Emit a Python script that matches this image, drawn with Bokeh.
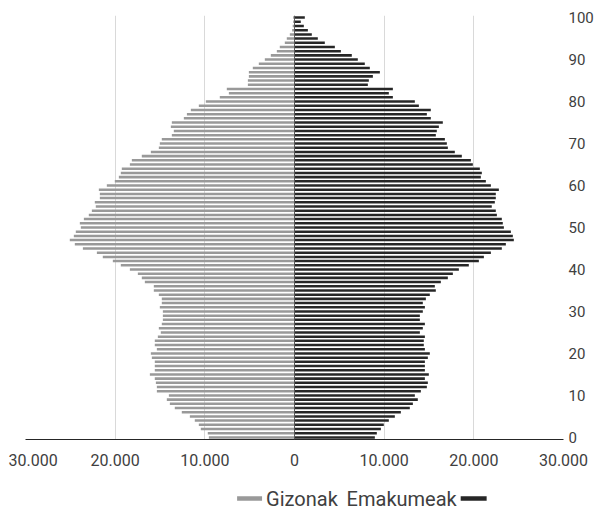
from bokeh.plotting import figure
from bokeh.models import Range1d, FixedTicker, Span, ColumnDataSource
from bokeh.layouts import column
from bokeh.embed import file_html
from bokeh.resources import INLINE
from bokeh.core.properties import value

# ---- data (ages 0..100) ----
ages = list(range(101))

# Gizonak (men), persons, age 0 .. 100
men = [9550, 9670, 10450, 10670, 11120, 11670, 12570, 13350, 13900, 14240,
       14010, 15350, 15350, 15460, 15580, 16130, 15580, 15580, 15580, 15910,
       16020, 15350, 15580, 15580, 15240, 14910, 15130, 14800, 14680, 14680,
       14680, 15020, 14800, 14800, 15130, 15690, 15690, 16690, 17030, 17470,
       18360, 19370, 20260, 21380, 22040, 23600, 24500, 25060, 24610, 24390,
       23830, 23940, 23490, 22940, 22600, 22160, 22270, 21710, 21710, 21820,
       20930, 20040, 19590, 19370, 19260, 18360, 18140, 17030, 16020, 15130,
       15020, 14800, 13680, 13460, 13790, 13680, 12340, 12000, 11560, 10670,
       9890, 8330, 7320, 7550, 5200, 5200, 5090, 5090, 4650, 3980,
       3310, 2640, 1970, 1640, 1080, 860, 520, 260, 200, 150,
       150]

# Emakumeak (women), persons, age 0 .. 100
women = [8960, 9180, 9630, 9960, 10520, 11190, 11860, 12860, 13200, 13750,
         13420, 14090, 14760, 14870, 14540, 14980, 14540, 14540, 14540, 14870,
         15090, 14540, 14420, 14420, 14540, 13980, 14310, 14540, 13980, 13980,
         14310, 14540, 14310, 14650, 15090, 15760, 15650, 16320, 17100, 17660,
         18330, 19440, 20560, 21120, 21900, 23120, 23570, 24460, 24350, 24130,
         23350, 23230, 23120, 22570, 22450, 22000, 22340, 22450, 22450, 22790,
         21900, 21340, 20780, 20890, 20670, 19890, 19670, 18660, 17880, 17100,
         16990, 16770, 15760, 15870, 16100, 16540, 15200, 14760, 15200, 13870,
         13420, 10970, 10520, 10970, 8180, 8290, 8740, 9520, 8400, 7840,
         7060, 6390, 5170, 4500, 3380, 2600, 1930, 1490, 1040, 700,
         1150]

x_ticks = [-30000, -20000, -10000, 0, 10000, 20000, 30000]
x_tick_labels = ["30.000", "20.000", "10.000", "0", "10.000", "20.000", "30.000"]
y_ticks = list(range(0, 101, 10))
legend_labels = ["Gizonak", "Emakumeak"]

FONT = "Roboto"
MEN_COLOR = "#999999"
WOMEN_COLOR = "#262626"
TEXT_COLOR = "#404040"
NBSP = "\u00a0"

W = 596
MAIN_H = 480
LEG_H = 38
FRAME_L = 25
FRAME_R_BORDER = 32

src = ColumnDataSource(dict(
    age=ages,
    men_left=[-m for m in men],
    women=women,
))

p = figure(width=W, height=MAIN_H, output_backend="svg", toolbar_location=None,
           x_range=Range1d(-30000, 30000), y_range=Range1d(-0.5, 100.5),
           y_axis_location="right",
           min_border_left=FRAME_L, min_border_right=FRAME_R_BORDER,
           min_border_top=15, min_border_bottom=41)
p.outline_line_color = None
p.background_fill_color = "white"

p.hbar(y="age", left="men_left", right=0, height=0.6, source=src,
       fill_color=MEN_COLOR, line_color=None)
p.hbar(y="age", left=0, right="women", height=0.6, source=src,
       fill_color=WOMEN_COLOR, line_color=None)

# grid
p.xgrid.ticker = FixedTicker(ticks=x_ticks)
p.xgrid.grid_line_color = "#d9d9d9"
p.xgrid.grid_line_width = 1
p.ygrid.grid_line_color = None

# center axis line
p.add_layout(Span(location=0, dimension="height", line_color="#595959", line_width=1))

# x axis
labels_fit = list(x_tick_labels)
labels_fit[0] = NBSP * 2 + labels_fit[0]   # keep the leftmost label inside the canvas
xa = p.xaxis[0]
xa.ticker = FixedTicker(ticks=x_ticks)
xa.major_label_overrides = {t: lab for t, lab in zip(x_ticks, labels_fit)}
xa.axis_line_color = "#262626"
xa.axis_line_width = 1
xa.major_tick_line_color = None
xa.minor_tick_line_color = None
xa.major_tick_out = 0
xa.major_label_standoff = 11
xa.major_label_text_font = FONT
xa.major_label_text_font_size = "16px"
xa.major_label_text_color = TEXT_COLOR

# y axis (right)
ya = p.yaxis[0]
ya.ticker = FixedTicker(ticks=y_ticks)
ya.axis_line_color = None
ya.major_tick_line_color = None
ya.minor_tick_line_color = None
ya.major_tick_out = 0
ya.major_label_standoff = 5
ya.major_label_text_font = FONT
ya.major_label_text_font_size = "15px"
ya.major_label_text_color = TEXT_COLOR

# legend strip: its frame is aligned with the main frame, so x range = pixel columns
lg = figure(width=W, height=LEG_H, output_backend="svg", toolbar_location=None,
            x_range=Range1d(FRAME_L, W - FRAME_R_BORDER), y_range=Range1d(0, LEG_H),
            x_axis_location=None, y_axis_location=None,
            min_border_left=FRAME_L, min_border_right=FRAME_R_BORDER,
            min_border_top=0, min_border_bottom=0)
lg.outline_line_color = None
lg.xgrid.visible = False
lg.ygrid.visible = False

lg.segment(x0=[237, 461], y0=[20, 20], x1=[262, 487], y1=[20, 20],
           line_color=[MEN_COLOR, WOMEN_COLOR], line_width=4.5)
lg.text(x=[266], y=[20], text=[legend_labels[0]], text_align="left",
        text_baseline="middle", text_font=value(FONT),
        text_font_size="20px", text_color=TEXT_COLOR)
lg.text(x=[457], y=[20], text=[legend_labels[1]], text_align="right",
        text_baseline="middle", text_font=value(FONT),
        text_font_size="20px", text_color=TEXT_COLOR)

layout = column(p, lg)
open("out.html", "w").write(file_html(layout, INLINE))
